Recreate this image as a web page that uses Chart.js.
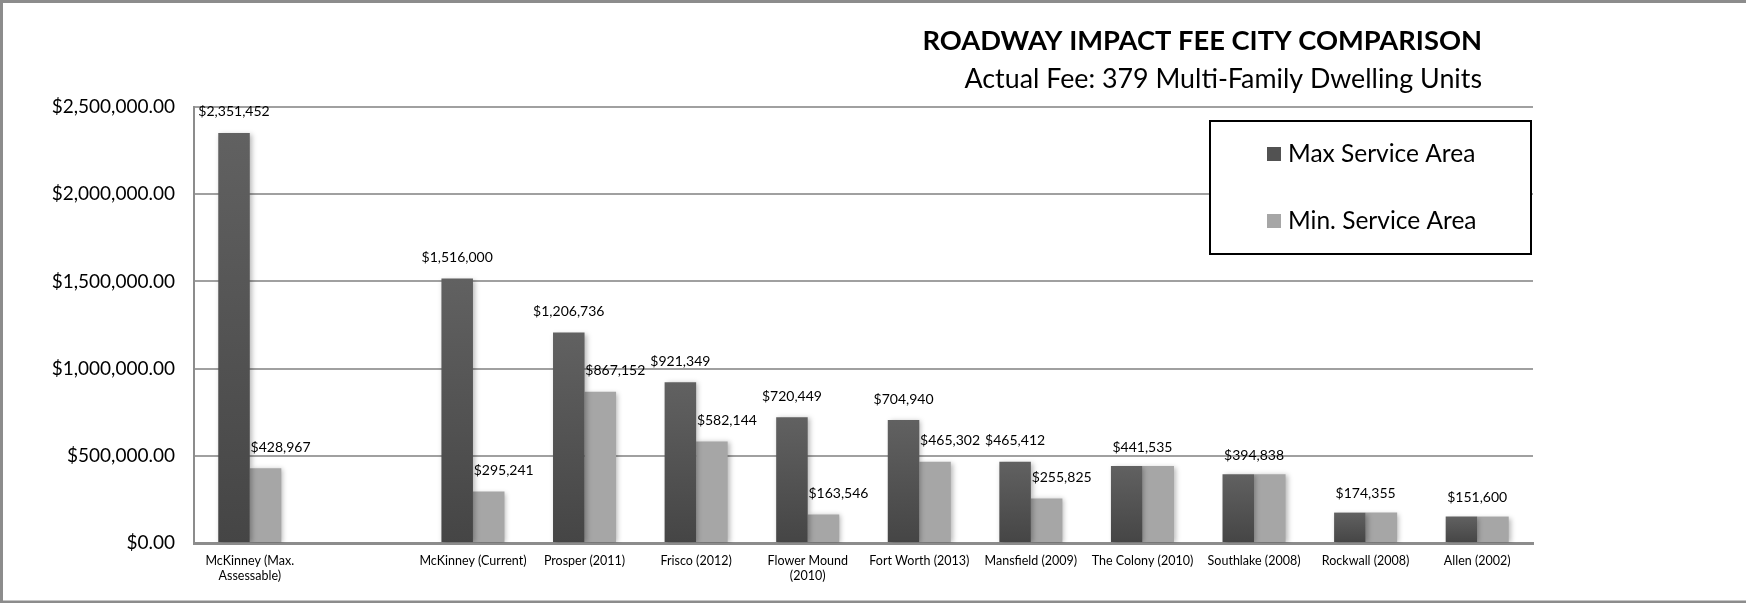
<!DOCTYPE html>
<html>
<head>
<meta charset="utf-8">
<script src="https://cdn.jsdelivr.net/npm/chart.js@4.4.1/dist/chart.umd.min.js"></script>
<style>
  html, body { margin: 0; padding: 0; background: #fff; }
  #chart { display: block; }
</style>
</head>
<body>
<canvas id="chart" width="1746" height="603"></canvas>
<script>
// chart values
const cityLabels = [
  ["McKinney (Max.", "Assessable)"], "", "McKinney (Current)", "Prosper (2011)", "Frisco (2012)",
  ["Flower Mound", "(2010)"], "Fort Worth (2013)", "Mansfield (2009)", "The Colony (2010)",
  "Southlake (2008)", "Rockwall (2008)", "Allen (2002)"
];
const maxFees = [2351452, null, 1516000, 1206736, 921349, 720449, 704940, 465412, 441535, 394838, 174355, 151600];
const minFees = [428967, null, 295241, 867152, 582144, 163546, 465302, 255825, 441535, 394838, 174355, 151600];
const yTickLabels = ["$0.00", "$500,000.00", "$1,000,000.00", "$1,500,000.00", "$2,000,000.00", "$2,500,000.00"];
const seriesNames = ["Max Service Area", "Min. Service Area"];
const titleText = "ROADWAY IMPACT FEE CITY COMPARISON";
const subtitleText = "Actual Fee: 379 Multi-Family Dwelling Units";

const FONT = "Lato, 'Open Sans', sans-serif";
const LIGHT = "#a6a6a6";
const fmt = v => "$" + v.toLocaleString("en-US");

// dark bars get a top-to-bottom gradient, per bar
function darkFill(c) {
  const chart = c.chart;
  const y = chart.scales.y;
  if (!chart.chartArea || !y || c.raw == null) return "#555555";
  const top = y.getPixelForValue(c.raw);
  const g = chart.ctx.createLinearGradient(0, top, 0, chart.chartArea.bottom);
  g.addColorStop(0, "#616161");
  g.addColorStop(1, "#454545");
  return g;
}

const frame = {
  id: "frame",
  beforeDraw(chart) {
    const { ctx, width, height } = chart;
    ctx.save();
    ctx.fillStyle = "#fff";
    ctx.fillRect(0, 0, width, height);
    ctx.strokeStyle = "#8c8c8c";
    ctx.lineWidth = 3;
    ctx.beginPath();
    ctx.moveTo(1.5, height - 1);
    ctx.lineTo(1.5, 1.5);
    ctx.lineTo(width, 1.5);
    ctx.moveTo(0, height - 1);
    ctx.lineTo(width, height - 1);
    ctx.stroke();
    ctx.restore();
  },
  afterDraw(chart) {
    const { ctx, chartArea } = chart;
    ctx.save();
    ctx.fillStyle = "#000";
    ctx.textAlign = "right";
    ctx.textBaseline = "middle";
    ctx.font = "bold 27.3px " + FONT;
    ctx.fillText(titleText, chartArea.right - 51, 41);
    ctx.font = "26.8px " + FONT;
    ctx.fillText(subtitleText, chartArea.right - 51, 79);
    ctx.restore();
  }
};

const barShadow = {
  id: "barShadow",
  beforeDatasetDraw(chart) {
    const ctx = chart.ctx;
    ctx.save();
    ctx.shadowColor = "rgba(0,0,0,0.28)";
    ctx.shadowBlur = 5;
    ctx.shadowOffsetX = 2;
    ctx.shadowOffsetY = 1;
  },
  afterDatasetDraw(chart) {
    chart.ctx.restore();
  }
};

const valueLabels = {
  id: "valueLabels",
  afterDatasetsDraw(chart) {
    const { ctx } = chart;
    const maxMeta = chart.getDatasetMeta(0);
    const minMeta = chart.getDatasetMeta(1);
    ctx.save();
    ctx.font = "14px " + FONT;
    ctx.fillStyle = "#000";
    ctx.textAlign = "center";
    ctx.textBaseline = "middle";
    maxFees.forEach((v, i) => {
      if (v == null) return;
      const a = maxMeta.data[i], b = minMeta.data[i];
      if (v === minFees[i]) {
        ctx.fillText(fmt(v), (a.x + b.x) / 2, a.y - 19);
        return;
      }
      ctx.fillText(fmt(v), a.x, a.y - 21);
      ctx.fillText(fmt(minFees[i]), b.x + 15, b.y - 21);
    });
    ctx.restore();
  }
};

const boxLegend = {
  id: "boxLegend",
  afterDraw(chart) {
    const { ctx, chartArea } = chart;
    const x = chartArea.right - 323, y = chartArea.top + 14, w = 321, h = 133;
    ctx.save();
    ctx.fillStyle = "#fff";
    ctx.fillRect(x, y, w, h);
    ctx.strokeStyle = "#000";
    ctx.lineWidth = 2;
    ctx.strokeRect(x, y, w, h);
    ctx.font = "24.5px " + FONT;
    ctx.textBaseline = "middle";
    ctx.textAlign = "left";
    const rows = [y + 33, y + 100];
    seriesNames.forEach((name, i) => {
      ctx.fillStyle = i === 0 ? "#525252" : LIGHT;
      ctx.fillRect(x + 57, rows[i] - 7, 14, 14);
      ctx.fillStyle = "#000";
      ctx.fillText(name, x + 78, rows[i]);
    });
    ctx.restore();
  }
};

new Chart(document.getElementById("chart"), {
  type: "bar",
  data: {
    labels: cityLabels,
    datasets: [
      { label: seriesNames[0], data: maxFees, backgroundColor: darkFill },
      { label: seriesNames[1], data: minFees, backgroundColor: LIGHT }
    ]
  },
  options: {
    responsive: false,
    animation: false,
    layout: { padding: { top: 107, right: 213, left: 0, bottom: 0 } },
    datasets: { bar: { categoryPercentage: 0.565, barPercentage: 1, borderWidth: 0 } },
    plugins: {
      legend: { display: false },
      title: { display: false },
      tooltip: { enabled: false }
    },
    scales: {
      x: {
        grid: { display: false, drawTicks: false },
        border: { color: "#8c8c8c", width: 3 },
        ticks: {
          color: "#000", font: { family: FONT, size: 12.5 }, padding: 10,
          maxRotation: 0, autoSkip: false
        },
        afterFit(s) { s.height = 60; }
      },
      y: {
        min: 0,
        max: 2500000,
        ticks: {
          stepSize: 500000,
          color: "#000",
          font: { family: FONT, size: 19 },
          padding: 19,
          callback: (v, i) => yTickLabels[i]
        },
        grid: { color: "#a0a0a0", lineWidth: 2, drawTicks: false },
        border: { color: "#8c8c8c", width: 2 },
        afterFit(s) { s.width = 194; }
      }
    }
  },
  plugins: [frame, barShadow, valueLabels, boxLegend]
});
</script>
</body>
</html>
